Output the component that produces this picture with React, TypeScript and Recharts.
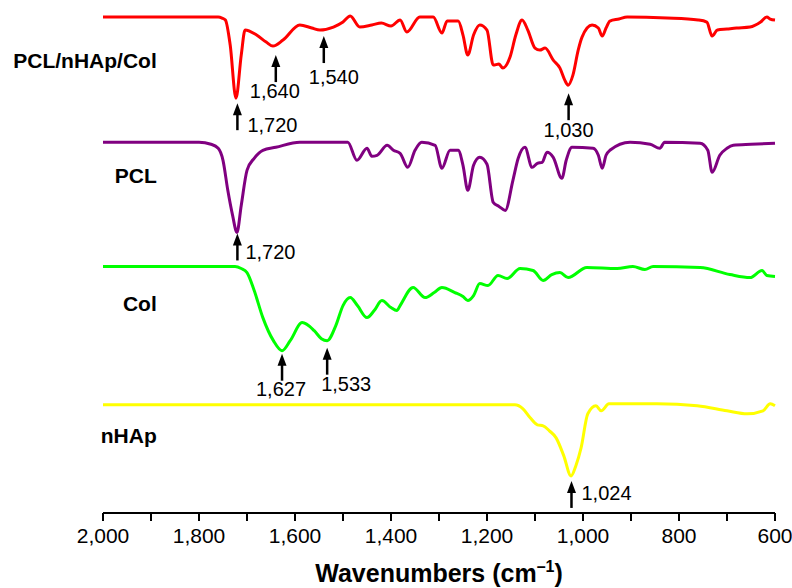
import { Line, LineChart, ReferenceDot, XAxis, YAxis } from 'recharts';

// FTIR spectra, transmittance in a.u. (stacked as in the figure)
const compositeSpectrum: Array<[number, number]> = [
  [2000, 99], [1760, 99], [1752, 98.8], [1745, 98.4], [1735, 93.4], [1723, 82.8], [1712, 91.4],
  [1704, 96.4], [1680, 95.4], [1660, 94], [1646, 93.2], [1625, 94.4], [1590, 97.4], [1565, 96.8],
  [1548, 96.4], [1520, 97], [1500, 98], [1485, 99.2], [1465, 97], [1440, 97.4], [1420, 97.8],
  [1400, 97.2], [1381, 98.4], [1367, 96], [1340, 99], [1312, 99], [1294, 95.8], [1283, 98.2],
  [1260, 98.2], [1250, 95.4], [1240, 91.4], [1228, 95.4], [1215, 97.4], [1200, 96.4], [1187, 89.4],
  [1175, 89.6], [1167, 88.8], [1152, 91], [1140, 95.4], [1127, 98.4], [1115, 96.4], [1100, 92.8],
  [1090, 92.4], [1079, 92.8], [1062, 90.4], [1048, 88.8], [1038, 86.4], [1031, 85.4], [1021, 87.4],
  [1010, 92.4], [1002, 95], [981, 97.4], [968, 96.8], [960, 95.2], [952, 96.8], [944, 98.2],
  [925, 98.6], [908, 99], [825, 98.8], [760, 98.4], [742, 98], [731, 95.2], [720, 96.4], [700, 96.6],
  [680, 96.8], [652, 97], [630, 98], [617, 99], [610, 98.6], [600, 98.4],
];

const pclSpectrum: Array<[number, number]> = [
  [2000, 74], [1800, 74], [1775, 73.6], [1760, 72.8], [1750, 70.4], [1740, 64.4], [1730, 59.4],
  [1721, 56], [1712, 61.4], [1700, 68.4], [1685, 70.8], [1667, 72.4], [1640, 73], [1590, 74],
  [1490, 74], [1471, 70.4], [1450, 72.8], [1440, 71.2], [1429, 71.4], [1408, 73.4], [1395, 72.4],
  [1381, 71.8], [1365, 69], [1350, 72.4], [1336, 74], [1308, 73.4], [1294, 68.8], [1277, 72.4],
  [1260, 72.4], [1250, 69.4], [1240, 64.4], [1228, 69.4], [1215, 71], [1200, 69.6], [1187, 62],
  [1175, 61.2], [1162, 60.4], [1146, 66.4], [1135, 70.8], [1121, 73], [1106, 69], [1095, 69.8],
  [1085, 70], [1075, 72], [1062, 71], [1044, 66.8], [1035, 70.4], [1023, 73], [979, 72.8],
  [968, 71.4], [960, 68.8], [952, 71.4], [944, 72.4], [902, 74], [860, 73.6], [840, 72.8], [830, 74],
  [756, 73.8], [740, 72.4], [731, 68], [715, 71.4], [700, 72.8], [687, 73.4], [650, 73.6], [600, 73.8],
];

const colSpectrum: Array<[number, number]> = [
  [2000, 49.2], [1725, 49.2], [1712, 48.8], [1700, 48], [1685, 44.4], [1667, 39], [1645, 34.4],
  [1627, 32.4], [1610, 34.4], [1585, 38], [1560, 36.4], [1545, 34.8], [1533, 34.4], [1515, 37.4],
  [1500, 41.4], [1485, 43], [1470, 41.4], [1450, 39], [1435, 40.4], [1419, 42.4], [1400, 41],
  [1388, 40.4], [1381, 41.4], [1354, 45], [1329, 43], [1310, 44], [1294, 45], [1267, 44],
  [1250, 43.2], [1240, 42.4], [1228, 43.4], [1215, 45.8], [1198, 45.4], [1177, 47.4], [1158, 46.8],
  [1131, 48.8], [1104, 48.4], [1083, 46.4], [1065, 47.6], [1048, 48], [1031, 47], [992, 49],
  [929, 48.8], [896, 49.2], [871, 48.6], [854, 49.2], [756, 49], [694, 47.6], [652, 47], [627, 48.4],
  [617, 47.4], [600, 47.2],
];

const nhapSpectrum: Array<[number, number]> = [
  [2000, 21.6], [1142, 21.6], [1125, 20.8], [1110, 19], [1095, 17.6], [1083, 17.4], [1070, 16.4],
  [1056, 15], [1040, 11.4], [1025, 7.4], [1015, 9.4], [1004, 13], [990, 19.8], [973, 21.4],
  [962, 20.4], [946, 21.8], [846, 21.8], [762, 21.4], [700, 20.4], [658, 19.8], [625, 20.4],
  [610, 21.8], [600, 21.4],
];

const seriesNames = ['PCL/nHAp/Col', 'PCL', 'Col', 'nHAp'];
const seriesColors = ['#ff0000', '#800080', '#00ff00', '#ffff00'];
const nameLevels = [90.2, 67.4, 41.8, 15.4];

// marked peaks: [series index, wavenumber, transmittance at arrow tip]
const peaks: Array<[number, number, number]> = [
  [0, 1720, 81.8], [0, 1640, 91.4], [0, 1540, 95.2], [0, 1030, 83.8],
  [1, 1720, 55.8],
  [2, 1627, 31.8], [2, 1533, 33],
  [3, 1024, 6.4],
];

const xTicks = [2000, 1900, 1800, 1700, 1600, 1500, 1400, 1300, 1200, 1100, 1000, 900, 800, 700, 600];

const spectra = [compositeSpectrum, pclSpectrum, colSpectrum, nhapSpectrum].map((s) =>
  s.map(([wn, t]) => ({ wn, t }))
);

const FONT = '"Liberation Sans", Arial, sans-serif';

// label placement relative to arrow tip: [dx, dy, anchor]
const labelPlace: Record<string, [number, number, 'start' | 'middle']> = {
  '0-1720': [10, 22, 'start'],
  '0-1640': [-1, 36, 'middle'],
  '0-1540': [10, 41, 'middle'],
  '0-1030': [0, 37, 'middle'],
  '1-1720': [8, 19, 'start'],
  '2-1627': [-1, 35, 'middle'],
  '2-1533': [19, 36, 'middle'],
  '3-1024': [10, 12, 'start'],
};

function PeakArrow(props: any) {
  const { cx, cy, text, place } = props;
  const [dx, dy, anchor] = place;
  return (
    <g>
      <line x1={cx} y1={cy + 8} x2={cx} y2={cy + 27} stroke='#000' strokeWidth={2.5} />
      <polygon points={`${cx},${cy} ${cx - 4.5},${cy + 12} ${cx + 4.5},${cy + 12}`} fill='#000' />
      <text x={cx + dx} y={cy + dy} dy='0.35em' textAnchor={anchor} fontSize={20} fontFamily={FONT} fill='#000'>
        {text}
      </text>
    </g>
  );
}

function NameLabel(props: any) {
  const { cx, cy, text } = props;
  return (
    <text x={cx} y={cy} dy='0.35em' textAnchor='end' fontSize={21} fontWeight='bold' fontFamily={FONT} fill='#000'>
      {text}
    </text>
  );
}

function AxisTitle(props: any) {
  const { viewBox } = props;
  const x = viewBox.x + viewBox.width / 2;
  const y = viewBox.y + 69;
  return (
    <text x={x} y={y} textAnchor='middle' fontSize={25} fontWeight='bold' fontFamily={FONT} fill='#000'>
      Wavenumbers (cm
      <tspan fontSize={16} dy={-10}>–1</tspan>
      <tspan dy={10}>)</tspan>
    </text>
  );
}

export default function App() {
  return (
    <div style={{ position: 'absolute', left: 0, top: 0 }}>
      <LineChart width={792} height={588} margin={{ top: 12, right: 17, left: 103, bottom: 0 }}>
        <XAxis
          type='number'
          dataKey='wn'
          domain={[600, 2000]}
          reversed
          ticks={xTicks}
          interval={0}
          tickFormatter={(v: number) => (v % 200 === 0 ? v.toLocaleString('en-US') : '')}
          tickSize={8}
          tickMargin={7}
          height={75}
          axisLine={{ stroke: '#000', strokeWidth: 2 }}
          tickLine={{ stroke: '#000', strokeWidth: 2 }}
          tick={{ fill: '#000', fontSize: 21, fontFamily: FONT }}
          label={{ content: (p: any) => <AxisTitle {...p} /> }}
        />
        <YAxis hide type='number' domain={[0, 100]} />
        {spectra.map((data, i) => (
          <Line
            key={seriesNames[i]}
            data={data}
            dataKey='t'
            type='monotone'
            stroke={seriesColors[i]}
            strokeWidth={3}
            dot={false}
            activeDot={false}
            isAnimationActive={false}
          />
        ))}
        {seriesNames.map((name, i) => (
          <ReferenceDot
            key={name}
            x={1888}
            y={nameLevels[i]}
            ifOverflow='visible'
            shape={(p: any) => <NameLabel {...p} text={name} />}
          />
        ))}
        {peaks.map(([s, wn, t]) => (
          <ReferenceDot
            key={`${s}-${wn}`}
            x={wn}
            y={t}
            ifOverflow='visible'
            shape={(p: any) => (
              <PeakArrow {...p} text={wn.toLocaleString('en-US')} place={labelPlace[`${s}-${wn}`]} />
            )}
          />
        ))}
      </LineChart>
    </div>
  );
}
